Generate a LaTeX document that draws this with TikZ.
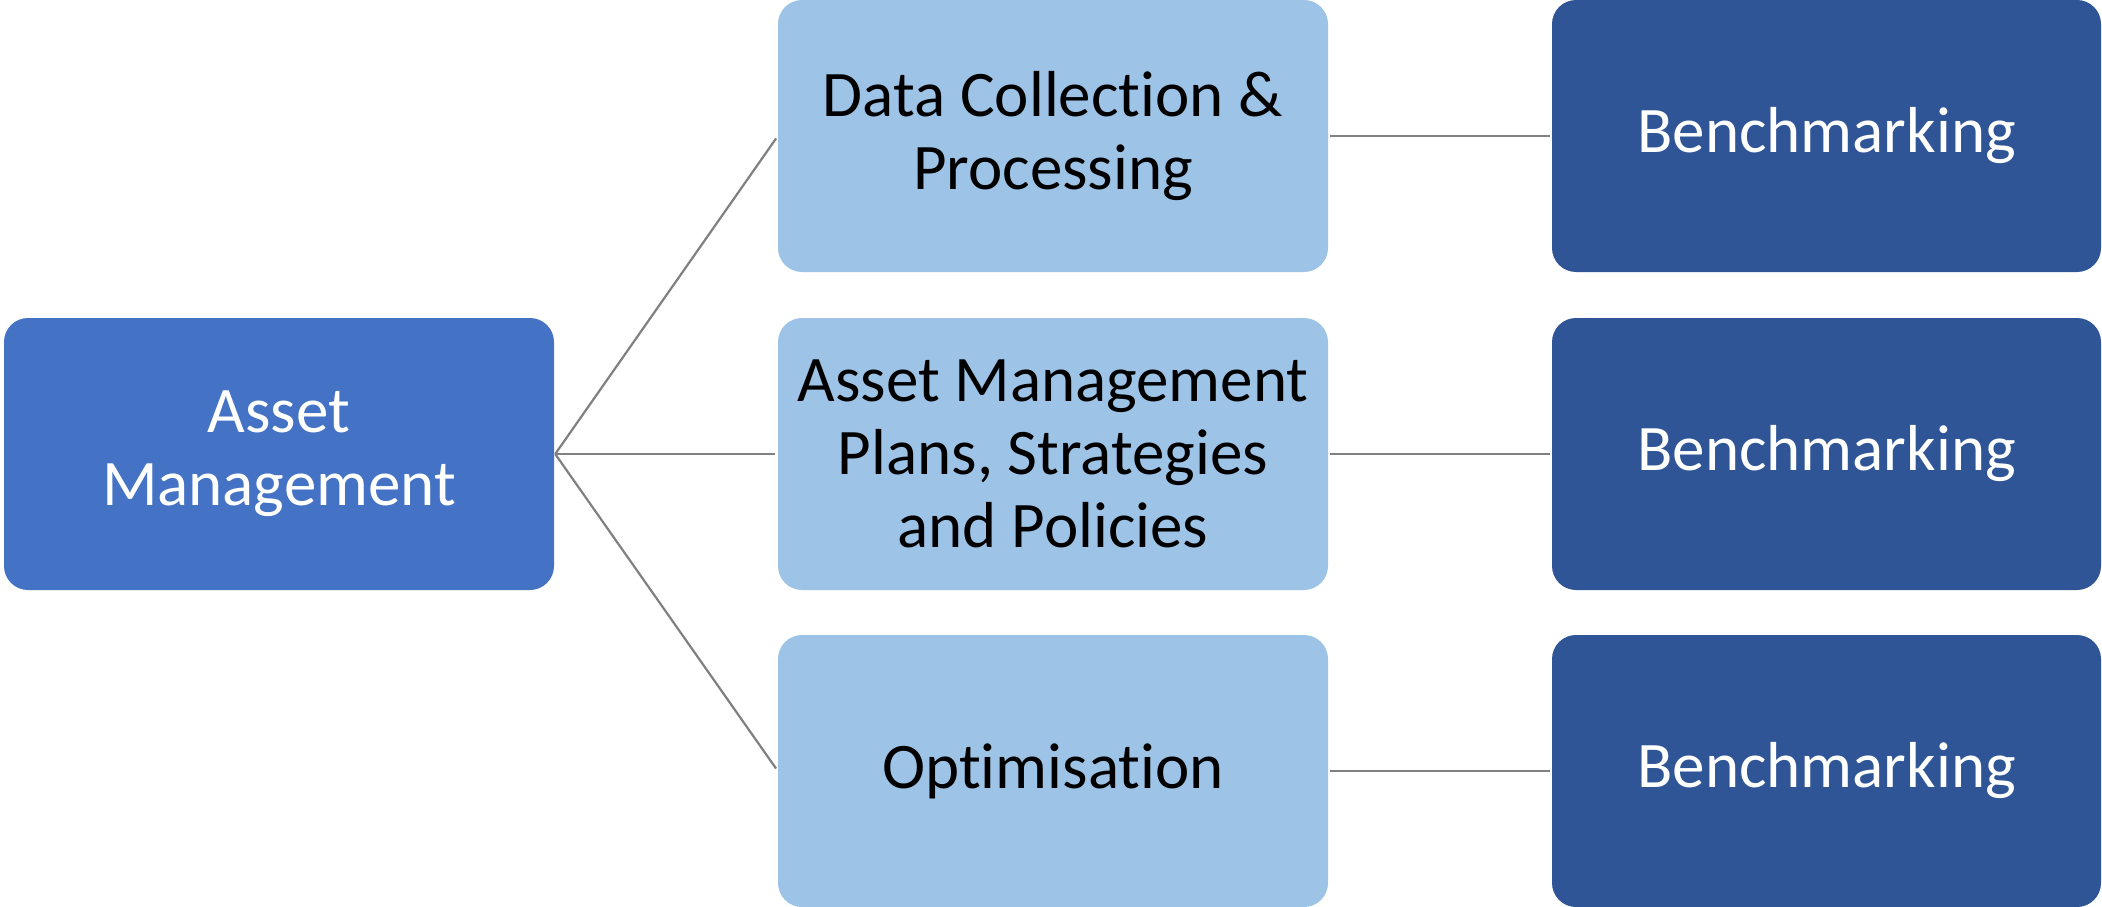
\documentclass[tikz,border=0pt]{standalone}
\usepackage{fontspec}
\setmainfont{Carlito}[Ligatures={NoCommon}]
\definecolor{amblue}{HTML}{4472C4}
\definecolor{midblue}{HTML}{9DC3E6}
\definecolor{darkblue}{HTML}{2F5597}
\definecolor{conngray}{HTML}{808080}
\tikzset{
  box/.style={rectangle, rounded corners=24pt, inner sep=0pt, minimum width=550pt, minimum height=272pt, align=center, font=\fontsize{65}{73}\selectfont},
  rootbox/.style={box, fill=amblue, text=white},
  midbox/.style={box, fill=midblue, text=black},
  benchbox/.style={box, fill=darkblue, text=white, minimum width=549pt},
  conn/.style={draw=conngray, line width=2.2pt}
}
\begin{document}
\begin{tikzpicture}[x=1pt, y=-1pt]
\useasboundingbox (0,0) rectangle (2102,907);
\node[rootbox] (am) at (279,454) {Asset\\Management};
\node[midbox] (dc) at (1053,136) {Data Collection \&\\Processing};
\node[midbox] (ap) at (1053,454) {Asset Management\\Plans, Strategies\\and Policies};
\node[midbox] (op) at (1053,771) {Optimisation};
\node[benchbox] (b1) at (1826.5,136) {Benchmarking};
\node[benchbox] (b2) at (1826.5,454) {Benchmarking};
\node[benchbox] (b3) at (1826.5,771) {Benchmarking};
\coordinate (j) at ([xshift=1pt]am.east);
\draw[conn, shorten >=3pt] (j) -- (dc.west);
\draw[conn, shorten >=3pt] (j) -- (ap.west);
\draw[conn, shorten >=3pt] (j) -- (op.west);
\draw[conn, shorten <=2pt, shorten >=2pt] (dc.east) -- (b1.west);
\draw[conn, shorten <=2pt, shorten >=2pt] (ap.east) -- (b2.west);
\draw[conn, shorten <=2pt, shorten >=2pt] (op.east) -- (b3.west);
\end{tikzpicture}
\end{document}
